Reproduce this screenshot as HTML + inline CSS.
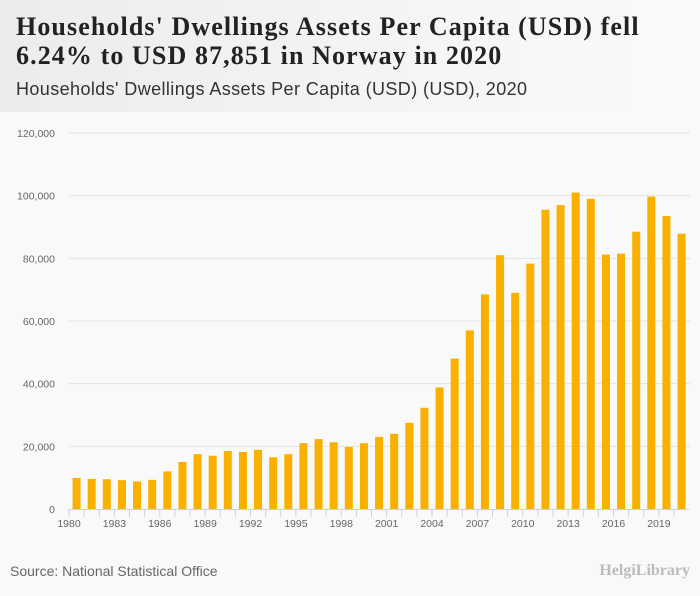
<!DOCTYPE html>
<html><head><meta charset="utf-8"><style>
body{margin:0;width:700px;height:596px;background:#f9f9f9;font-family:"Liberation Sans",sans-serif;overflow:hidden;position:relative}
#hdr{position:absolute;left:0;top:0;width:700px;height:112px;background:linear-gradient(90deg,#ececec,#f5f5f5 60%,#fafafa)}
#title{position:absolute;left:16px;top:12px;font:bold 26px/29px "Liberation Serif",serif;color:#222;letter-spacing:1.1px}
#sub{position:absolute;left:16px;top:79px;font:18px "Liberation Sans",sans-serif;color:#333;letter-spacing:0.4px}
#src{position:absolute;left:10px;top:563px;font:14px "Liberation Sans",sans-serif;color:#666}
#logo{position:absolute;right:10px;top:562px;font:bold 16px "Liberation Serif",serif;color:#bbb}
svg{position:absolute;left:0;top:0}
</style></head><body>
<div id="hdr"></div>
<div id="title">Households' Dwellings Assets Per Capita (USD) fell<br>6.24% to USD 87,851 in Norway in 2020</div>
<div id="sub">Households' Dwellings Assets Per Capita (USD) (USD), 2020</div>
<svg id="chart" width="700" height="596"></svg>
<div id="src">Source: National Statistical Office</div>
<div id="logo">HelgiLibrary</div>
<script>
const years=[1980,1981,1982,1983,1984,1985,1986,1987,1988,1989,1990,1991,1992,1993,1994,1995,1996,1997,1998,1999,2000,2001,2002,2003,2004,2005,2006,2007,2008,2009,2010,2011,2012,2013,2014,2015,2016,2017,2018,2019,2020];
const values=[9900,9600,9500,9200,8800,9300,12000,15000,17500,17000,18500,18200,18900,16500,17500,21000,22300,21300,19800,21000,23000,24000,27500,32300,38800,48000,57000,68500,81000,69000,78300,95500,97000,101000,99000,81200,81500,88500,99700,93500,87851];
const yTicks=[0,20000,40000,60000,80000,100000,120000];
const xLabels=[1980,1983,1986,1989,1992,1995,1998,2001,2004,2007,2010,2013,2016,2019];
const NS="http://www.w3.org/2000/svg";
const svg=document.getElementById('chart');
const x0=69,bw=15.125,y0=509,yTop=133,yMax=120000;
const y=v=>y0-(v/yMax)*(y0-yTop);
const xc=i=>x0+bw*i+bw/2;
function mk(t,a){const e=document.createElementNS(NS,t);for(const k in a)e.setAttribute(k,a[k]);svg.appendChild(e);return e;}
yTicks.forEach(v=>{
  if(v>0){const g=mk('line',{x1:x0,x2:690,y1:y(v),y2:y(v),stroke:'#e2e2e2','stroke-width':1});
  
  }
  const t=mk('text',{x:55,y:y(v)+4,'text-anchor':'end','font-size':'10.5','fill':'#666','font-family':'Liberation Sans'});
  t.textContent=v.toLocaleString('en-US');
  
  
});
values.forEach((v,i)=>{
  const r=mk('rect',{x:xc(i)-4,y:y(v),width:8,height:y0-y(v),fill:'#f9b000'});
  
  
});
const ax=mk('line',{x1:x0,x2:x0+bw*years.length,y1:y0+0.5,y2:y0+0.5,stroke:'#c8d4e6','stroke-width':1});


years.forEach((yr,i)=>{
  const tk=mk('line',{x1:x0+bw*i,x2:x0+bw*i,y1:y0,y2:y0+8,stroke:'#c8d4e6'});
  
  
});
xLabels.forEach(yr=>{
  const i=years.indexOf(yr);
  const t=mk('text',{x:x0+bw*i,y:y0+18,'text-anchor':'middle','font-size':'10.5','fill':'#666','font-family':'Liberation Sans'});
  t.textContent=yr;
  
  
});
</script>
</body></html>
